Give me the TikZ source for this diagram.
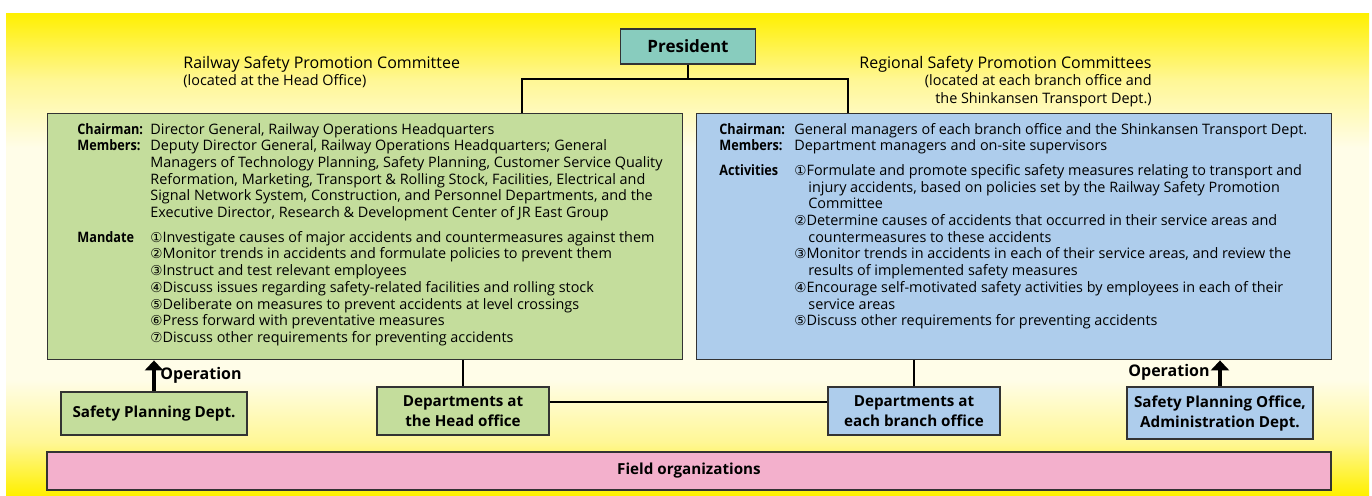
\documentclass[tikz,border=0pt]{standalone}
\usepackage{fontspec}
\usepackage{graphicx}
\setmainfont{Open Sans}
\newfontfamily\numfont{DejaVu Sans}
\usetikzlibrary{positioning,arrows.meta}

\definecolor{panelyellow}{RGB}{255,240,0}
\definecolor{panelpale}{RGB}{255,247,150}
\definecolor{panellight}{RGB}{255,253,232}
\definecolor{presteal}{RGB}{136,204,190}
\definecolor{hqgreen}{RGB}{196,221,156}
\definecolor{branchblue}{RGB}{174,205,236}
\definecolor{fieldpink}{RGB}{243,176,204}

\pgfdeclareverticalshading{panelshade}{100bp}{color(0bp)=(panelyellow); color(25bp)=(panelyellow); color(30.5bp)=(panelpale); color(37bp)=(panellight); color(61bp)=(panellight); color(68bp)=(panelpale); color(75bp)=(panelyellow); color(100bp)=(panelyellow)}

\newcommand{\circnum}[1]{{\numfont\fontsize{6.8}{6.8}\selectfont #1}}
\newcommand{\rowlabel}[1]{\scalebox{0.88}[1]{\textbf{#1}}}

\begin{document}
\begin{tikzpicture}[x=0.5pt,y=-0.5pt,
  box/.style={draw=black!80,line width=0.7pt,inner sep=0pt,align=center,font=\fontsize{7.6}{10}\selectfont\bfseries},
  conn/.style={line width=1pt},
  oparrow/.style={line width=2pt,-{Triangle[width=9pt,length=5pt]}},
  body/.style={inner sep=0pt,anchor=base west,font=\fontsize{7.2}{8.35}\selectfont},
  heading/.style={inner sep=0pt,font=\fontsize{8}{10}\selectfont},
  subheading/.style={inner sep=0pt,font=\fontsize{7.2}{9}\selectfont}]

\useasboundingbox (0,0) rectangle (1372,495);
\shade[shading=panelshade] (6,13) rectangle (1369,495);

% president and committees
\node[box,fill=presteal,minimum width=67.5pt,minimum height=17.5pt,font=\fontsize{8.5}{10}\selectfont\bfseries] (president) at (688,46.5) {President};

\node[heading,anchor=base west] (rspctitle) at (183,68) {Railway Safety Promotion Committee};
\node[subheading,anchor=base west] (rspcsub) at (183,85) {(located at the Head Office)};
\node[heading,anchor=base west] (rsctitle) at (859,68) {Regional Safety Promotion Committees};
\node[subheading,anchor=base east] (rscsub) at (1152,85) {(located at each branch office and};
\node[subheading,anchor=base east] (rscsubb) at (1152,103) {the Shinkansen Transport Dept.)};

\node[box,fill=hqgreen,minimum width=317.5pt,minimum height=123pt,anchor=north west] (rspc) at (47,113) {};
\node[box,fill=branchblue,minimum width=317.5pt,minimum height=123pt,anchor=north west] (rsc) at (696,113) {};

\node[body] (rspctext) at (77,134) {\begin{tabular}[t]{@{}p{36.5pt}@{}l@{}}
\rowlabel{Chairman:} & Director General, Railway Operations Headquarters\\
\rowlabel{Members:} & Deputy Director General, Railway Operations Headquarters; General\\
 & Managers of Technology Planning, Safety Planning, Customer Service Quality\\
 & Reformation, Marketing, Transport \& Rolling Stock, Facilities, Electrical and\\
 & Signal Network System, Construction, and Personnel Departments, and the\\
 & Executive Director, Research \& Development Center of JR East Group\\[4pt]
\rowlabel{Mandate} & \circnum{①}Investigate causes of major accidents and countermeasures against them\\
 & \circnum{②}Monitor trends in accidents and formulate policies to prevent them\\
 & \circnum{③}Instruct and test relevant employees\\
 & \circnum{④}Discuss issues regarding safety-related facilities and rolling stock\\
 & \circnum{⑤}Deliberate on measures to prevent accidents at level crossings\\
 & \circnum{⑥}Press forward with preventative measures\\
 & \circnum{⑦}Discuss other requirements for preventing accidents
\end{tabular}};

\node[body] (rsctext) at (719,134) {\begin{tabular}[t]{@{}p{37.5pt}@{}l@{}}
\rowlabel{Chairman:} & General managers of each branch office and the Shinkansen Transport Dept.\\
\rowlabel{Members:} & Department managers and on-site supervisors\\[4pt]
\rowlabel{Activities} & \circnum{①}Formulate and promote specific safety measures relating to transport and\\
 & \hspace{7pt}injury accidents, based on policies set by the Railway Safety Promotion\\
 & \hspace{7pt}Committee\\
 & \circnum{②}Determine causes of accidents that occurred in their service areas and\\
 & \hspace{7pt}countermeasures to these accidents\\
 & \circnum{③}Monitor trends in accidents in each of their service areas, and review the\\
 & \hspace{7pt}results of implemented safety measures\\
 & \circnum{④}Encourage self-motivated safety activities by employees in each of their\\
 & \hspace{7pt}service areas\\
 & \circnum{⑤}Discuss other requirements for preventing accidents
\end{tabular}};

% departments
\node[box,fill=hqgreen,minimum width=93pt,minimum height=21.5pt] (spd) at (154,413.5) {Safety Planning Dept.};
\node[box,fill=hqgreen,minimum width=86pt,minimum height=24pt] (hqdepts) at (463,411) {Departments at\\the Head office};
\node[box,fill=branchblue,minimum width=86pt,minimum height=24pt] (branchdepts) at (914,411) {Departments at\\each branch office};
\node[box,fill=branchblue,minimum width=93pt,minimum height=26pt] (spo) at (1220,413) {Safety Planning Office,\\Administration Dept.};
\node[box,fill=fieldpink,minimum width=642pt,minimum height=19pt] (field) at (689,471) {Field organizations};

\node[inner sep=0pt,font=\fontsize{8}{10}\selectfont\bfseries] (opleft) at (201,375) {Operation};
\node[inner sep=0pt,font=\fontsize{8}{10}\selectfont\bfseries] (opright) at (1169,372) {Operation};

% connectors
\coordinate (split) at (688,79);
\coordinate (rspcjoin) at (522,113);
\coordinate (rscjoin) at (848,113);
\draw[conn] (president.south) -- (split);
\draw[conn] (rspcjoin) |- (split) -| (rscjoin);
\draw[conn] (hqdepts.north) -- (hqdepts.north |- rspc.south);
\draw[conn] (branchdepts.north) -- (branchdepts.north |- rsc.south);
\draw[conn] ([yshift=4.5pt]hqdepts.east) -- ([yshift=4.5pt]branchdepts.west);
\draw[oparrow] (spd.north) -- (spd.north |- rspc.south);
\draw[oparrow] (spo.north) -- (spo.north |- rsc.south);
\end{tikzpicture}
\end{document}
